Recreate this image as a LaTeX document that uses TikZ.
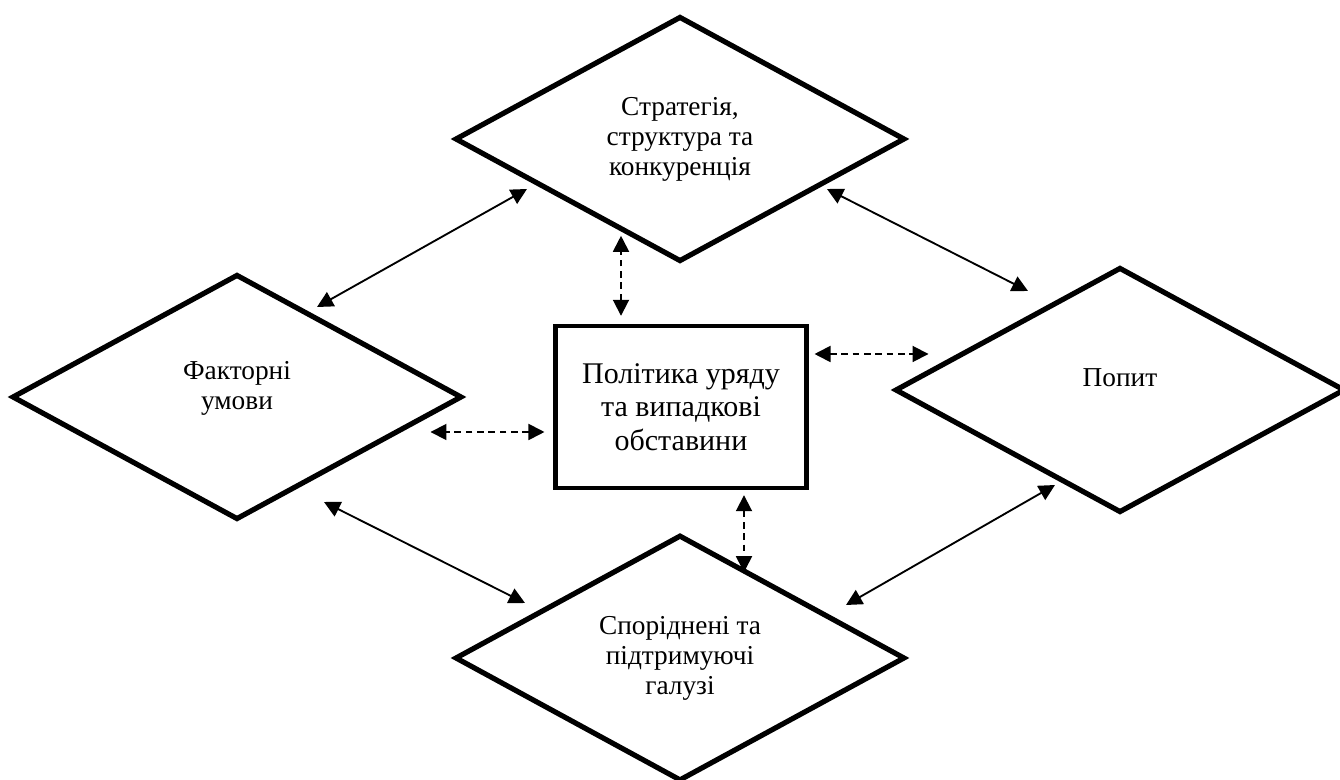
\documentclass[tikz,border=0pt]{standalone}
\usepackage{fontspec}
\setmainfont{Liberation Serif}
\usetikzlibrary{shapes.geometric,arrows.meta}

\begin{document}
\begin{tikzpicture}[x=0.75pt,y=-0.75pt,%%
  diamondStyle/.style={diamond,draw,line width=3.9pt,minimum width=337.5pt,%%
    minimum height=184pt,inner sep=0pt,align=center,%%
    font=\fontsize{20.5}{22.5}\selectfont},%%
  boxStyle/.style={rectangle,draw,line width=3.3pt,minimum width=188pt,%%
    minimum height=121.5pt,align=center,%%
    font=\fontsize{22.5}{25}\selectfont},%%
  solidArrow/.style={{Triangle[length=12pt,width=12pt]}-{Triangle[length=12pt,width=12pt]},line width=1.4pt},%%
  dashArrow/.style={solidArrow,dash pattern=on 5pt off 3.5pt}%%
]
\useasboundingbox (0,0) rectangle (1340,780);
%%
%% The four diamonds and the box in the middle.
\node[diamondStyle] (strategy) at (680,139) {Стратегія,\\ структура та\\ конкуренція};
\node[diamondStyle,text depth=18pt] (factors) at (237,397) {Факторні\\ умови};
\node[diamondStyle,text depth=18pt] (demand) at (1120,390) {Попит};
\node[diamondStyle] (related) at (680,658) {Споріднені та\\ підтримуючі\\ галузі};
\node[boxStyle] (policy) at (681,407) {Політика уряду\\ та випадкові\\ обставини};
%%
%% Links between the diamonds.
\draw[solidArrow] ([shift={(80,-90)}]factors.center) -- ([shift={(-153,50)}]strategy.center);
\draw[solidArrow] ([shift={(147,50)}]strategy.center) -- ([shift={(-92,-99)}]demand.center);
\draw[solidArrow] ([shift={(87,105)}]factors.center) -- ([shift={(-155,-55)}]related.center);
\draw[solidArrow] ([shift={(166,-53)}]related.center) -- ([shift={(-65,95)}]demand.center);
%%
%% Links to the box.
\draw[dashArrow] ([shift={(-60,-8)}]policy.north) -- ++(0,-80);
\draw[dashArrow] ([shift={(63,5)}]policy.south) -- ++(0,77);
\draw[dashArrow] ([shift={(-9,25)}]policy.west) -- ++(-114,0);
\draw[dashArrow] ([shift={(6,-53)}]policy.east) -- ++(114,0);
\end{tikzpicture}
\end{document}
